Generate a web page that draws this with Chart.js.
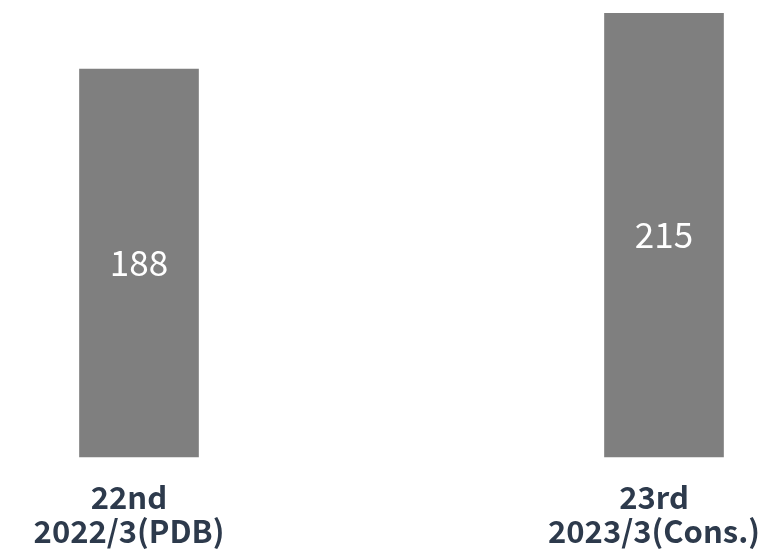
<!DOCTYPE html>
<html>
<head>
<meta charset="utf-8">
<script src="https://cdn.jsdelivr.net/npm/chart.js@4.4.0/dist/chart.umd.min.js"></script>
<style>
  html, body { margin: 0; padding: 0; background: #fff; }
  #wrap { width: 767px; height: 553px; }
</style>
</head>
<body>
<div id="wrap"><canvas id="salesChart"></canvas></div>
<script>
// two periods, two lines per axis label
const periods = [['22nd', '2022/3(PDB)'], ['23rd', '2023/3(Cons.)']];
const sales = [188, 215];
const yMax = 220;

// writes each value in the middle of its bar
const valueLabels = {
  id: 'valueLabels',
  afterDatasetsDraw(chart) {
    const ctx = chart.ctx;
    const meta = chart.getDatasetMeta(0);
    ctx.save();
    ctx.fillStyle = '#ffffff';
    ctx.font = '400 35px "Noto Sans CJK JP"';
    ctx.textAlign = 'center';
    ctx.textBaseline = 'middle';
    meta.data.forEach((bar, i) => {
      const p = bar.getProps(['x', 'y', 'base'], true);
      ctx.fillText(String(sales[i]), p.x, (p.y + p.base) / 2);
    });
    ctx.restore();
  }
};

new Chart(document.getElementById('salesChart'), {
  type: 'bar',
  data: {
    labels: periods,
    datasets: [{
      data: sales,
      backgroundColor: '#7f7f7f',
      barThickness: 119,
      clip: false
    }]
  },
  options: {
    responsive: true,
    maintainAspectRatio: false,
    animation: false,
    layout: { padding: { left: 139, right: 103, top: 3, bottom: 0 } },
    plugins: {
      legend: { display: false },
      tooltip: { enabled: false }
    },
    scales: {
      x: {
        offset: false,
        grid: { display: false, drawTicks: false },
        border: { display: false },
        ticks: {
          color: '#2d3a4c',
          font: { family: '"Noto Sans CJK JP"', size: 31, weight: 'bold', lineHeight: 1.1 },
          padding: 23,
          labelOffset: -10,
          maxRotation: 0,
          autoSkip: false
        },
        afterFit(scale) {
          scale.height = 96;
          scale.paddingLeft = 0;
          scale.paddingRight = 0;
        }
      },
      y: { display: false, min: 0, max: yMax }
    }
  },
  plugins: [valueLabels]
});
</script>
</body>
</html>
